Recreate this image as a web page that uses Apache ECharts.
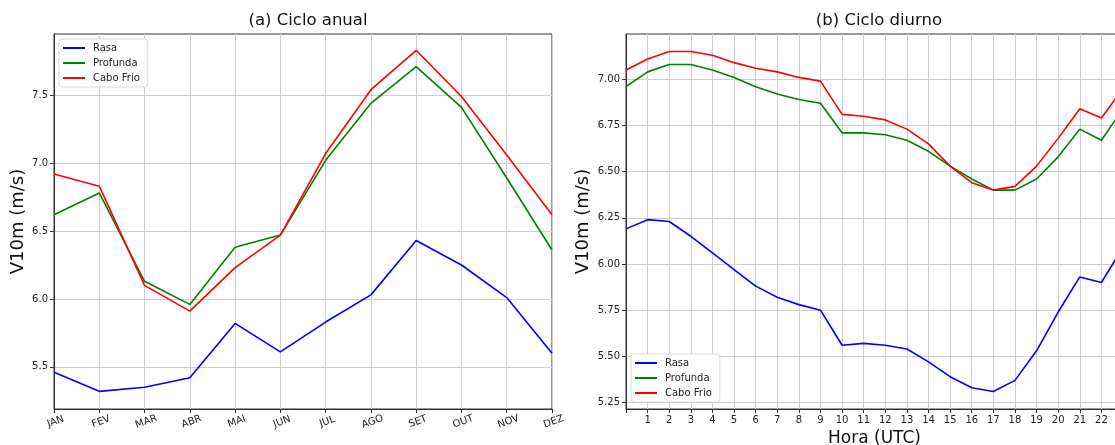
<!DOCTYPE html>
<html>
<head>
<meta charset="utf-8">
<script src="https://cdn.jsdelivr.net/npm/echarts@6/dist/echarts.min.js"></script>
<style>
  html, body { margin: 0; padding: 0; background: #fff; }
  #chart { width: 1115px; height: 445px; }
</style>
</head>
<body>
<div id="chart"></div>
<script>
// (a) ciclo anual
var months = ['JAN', 'FEV', 'MAR', 'ABR', 'MAI', 'JUN', 'JUL', 'AGO', 'SET', 'OUT', 'NOV', 'DEZ']
var rasaAnual = [5.46, 5.32, 5.35, 5.42, 5.82, 5.61, 5.83, 6.03, 6.43, 6.25, 6.01, 5.60]
var profundaAnual = [6.62, 6.78, 6.13, 5.96, 6.38, 6.47, 7.02, 7.44, 7.71, 7.41, 6.89, 6.36]
var caboFrioAnual = [6.92, 6.83, 6.10, 5.91, 6.23, 6.47, 7.07, 7.54, 7.83, 7.49, 7.06, 6.62]
var ticksAnual = [5.5, 6.0, 6.5, 7.0, 7.5]

// (b) ciclo diurno
var horas = [0, 1, 2, 3, 4, 5, 6, 7, 8, 9, 10, 11, 12, 13, 14, 15, 16, 17, 18, 19, 20, 21, 22, 23]
var rasaDiurno = [6.19, 6.24, 6.23, 6.15, 6.06, 5.97, 5.88, 5.82, 5.78, 5.75, 5.56, 5.57, 5.56, 5.54, 5.47, 5.39, 5.33, 5.31, 5.37, 5.53, 5.74, 5.93, 5.90, 6.09]
var profundaDiurno = [6.96, 7.04, 7.08, 7.08, 7.05, 7.01, 6.96, 6.92, 6.89, 6.87, 6.71, 6.71, 6.70, 6.67, 6.61, 6.53, 6.46, 6.40, 6.40, 6.46, 6.58, 6.73, 6.67, 6.84]
var caboFrioDiurno = [7.05, 7.11, 7.15, 7.15, 7.13, 7.09, 7.06, 7.04, 7.01, 6.99, 6.81, 6.80, 6.78, 6.73, 6.65, 6.53, 6.44, 6.40, 6.42, 6.53, 6.68, 6.84, 6.79, 6.95]
var ticksDiurno = [5.25, 5.5, 5.75, 6.0, 6.25, 6.5, 6.75, 7.0]

var nomes = ['Rasa', 'Profunda', 'Cabo Frio']
var cores = ['#0000ff', '#008000', '#ff0000']

var fonte = 'DejaVu Sans'

function pares (valores) {
  return horas.map(function (h, i) {
    return [h, valores[i]]
  })
}

function linha (nome, cor, dados, idx) {
  return {
    name: nome,
    type: 'line',
    xAxisIndex: idx,
    yAxisIndex: idx,
    showSymbol: false,
    symbol: 'none',
    clip: true,
    lineStyle: { color: cor, width: 1.6 },
    itemStyle: { color: cor },
    data: dados
  }
}

function legenda (left, top) {
  return {
    data: nomes,
    orient: 'vertical',
    left: left,
    top: top,
    icon: 'rect',
    itemWidth: 22,
    itemHeight: 2,
    itemGap: 5,
    padding: [4, 8, 4, 4],
    backgroundColor: '#fff',
    borderColor: '#d8d8d8',
    borderWidth: 1,
    borderRadius: 3,
    textStyle: { fontFamily: fonte, fontSize: 10, color: '#222', padding: [0, 0, 0, 3] }
  }
}

var eixoY = function (idx, min, max, ticks, casas) {
  return {
    type: 'value',
    gridIndex: idx,
    min: min,
    max: max,
    name: 'V10m (m/s)',
    nameLocation: 'middle',
    nameGap: casas === 1 ? 27 : 34,
    nameTextStyle: { fontFamily: fonte, fontSize: 18, color: '#111' },
    axisLine: { show: true, lineStyle: { color: '#333', width: 1 } },
    axisTick: { show: true, length: 4, customValues: ticks, lineStyle: { color: '#333' } },
    axisLabel: {
      customValues: ticks,
      fontFamily: fonte,
      fontSize: 10,
      color: '#222',
      margin: 6,
      formatter: function (v) { return v.toFixed(casas) }
    },
    splitLine: { show: true, lineStyle: { color: '#cfcfcf', width: 1 } }
  }
}

var option = {
  animation: false,
  backgroundColor: '#fff',
  textStyle: { fontFamily: fonte },
  title: [{
    text: '(a) Ciclo anual',
    left: 303,
    top: 7,
    textAlign: 'center',
    textStyle: { fontFamily: fonte, fontSize: 16.5, fontWeight: 'normal', color: '#111' }
  }, {
    text: '(b) Ciclo diurno',
    left: 874,
    top: 7,
    textAlign: 'center',
    textStyle: { fontFamily: fonte, fontSize: 16.5, fontWeight: 'normal', color: '#111' }
  }],
  legend: [legenda(59, 39), legenda(631, 354)],
  grid: [{
    left: 54,
    right: 563,
    top: 34,
    bottom: 36,
    outerBoundsMode: 'none',
    containLabel: false,
    show: true,
    borderColor: '#333',
    borderWidth: 1
  }, {
    left: 626,
    right: -8,
    top: 34,
    bottom: 36,
    outerBoundsMode: 'none',
    containLabel: false,
    show: true,
    borderColor: '#333',
    borderWidth: 1
  }],
  xAxis: [{
    type: 'category',
    gridIndex: 0,
    data: months,
    boundaryGap: false,
    axisLine: { lineStyle: { color: '#333' } },
    axisTick: { show: true, length: 4, interval: 0, alignWithLabel: true, lineStyle: { color: '#333' } },
    axisLabel: {
      interval: 0,
      rotate: 20,
      align: 'center',
      verticalAlign: 'top',
      fontFamily: fonte,
      fontSize: 10,
      color: '#222',
      margin: 8
    },
    splitLine: { show: true, interval: 0, lineStyle: { color: '#cfcfcf', width: 1 } }
  }, {
    type: 'value',
    gridIndex: 1,
    min: 0,
    max: 23,
    interval: 1,
    name: 'Hora (UTC)',
    nameLocation: 'middle',
    nameGap: 19,
    nameTextStyle: { fontFamily: fonte, fontSize: 17, color: '#111' },
    axisLine: { lineStyle: { color: '#333' } },
    axisTick: { show: true, length: 4, lineStyle: { color: '#333' } },
    axisLabel: {
      fontFamily: fonte,
      fontSize: 10,
      color: '#222',
      margin: 6,
      formatter: function (v) { return v === 0 ? '' : String(v) }
    },
    splitLine: { show: true, lineStyle: { color: '#cfcfcf', width: 1 } }
  }],
  yAxis: [
    eixoY(0, 5.19, 7.95, ticksAnual, 1),
    eixoY(1, 5.215, 7.245, ticksDiurno, 2)
  ],
  series: [
    linha(nomes[0], cores[0], rasaAnual, 0),
    linha(nomes[1], cores[1], profundaAnual, 0),
    linha(nomes[2], cores[2], caboFrioAnual, 0),
    linha(nomes[0], cores[0], pares(rasaDiurno), 1),
    linha(nomes[1], cores[1], pares(profundaDiurno), 1),
    linha(nomes[2], cores[2], pares(caboFrioDiurno), 1)
  ]
}

var myChart = echarts.init(document.getElementById('chart'))
myChart.setOption(option)
</script>
</body>
</html>
